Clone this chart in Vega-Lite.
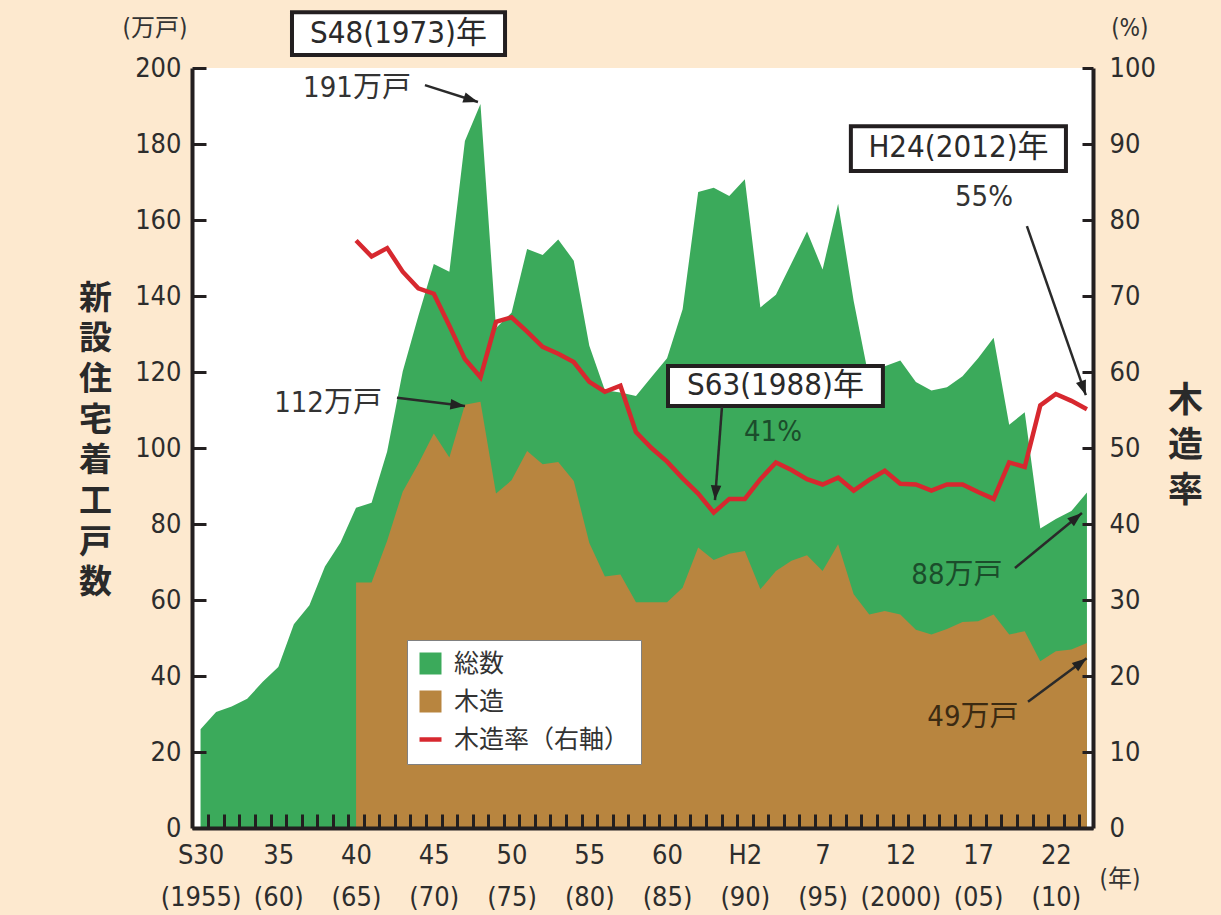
{
  "$schema": "https://vega.github.io/schema/vega-lite/v6.json",
  "width": 901,
  "height": 760,
  "autosize": {"type": "none"},
  "padding": {"left": 192, "top": 68, "right": 128, "bottom": 87},
  "background": "#FDE9CF",
  "config": {
    "view": {"fill": "white", "stroke": null},
    "font": "DejaVu Sans Condensed, Noto Sans CJK JP, sans-serif",
    "axis": {
      "grid": false,
      "zindex": 1,
      "domainColor": "#231F20",
      "domainWidth": 4,
      "tickColor": "#231F20",
      "tickWidth": 3,
      "labelColor": "#2d2d2d",
      "labelFont": "DejaVu Sans Condensed, Noto Sans CJK JP, sans-serif",
      "labelFontSize": 27
    }
  },
  "datasets": {
    "series": [
      {"year": 1955, "total": 26.0, "wood": null, "ratio": null},
      {"year": 1956, "total": 30.5, "wood": null, "ratio": null},
      {"year": 1957, "total": 32.0, "wood": null, "ratio": null},
      {"year": 1958, "total": 34.0, "wood": null, "ratio": null},
      {"year": 1959, "total": 38.5, "wood": null, "ratio": null},
      {"year": 1960, "total": 42.4, "wood": null, "ratio": null},
      {"year": 1961, "total": 53.6, "wood": null, "ratio": null},
      {"year": 1962, "total": 58.6, "wood": null, "ratio": null},
      {"year": 1963, "total": 68.8, "wood": null, "ratio": null},
      {"year": 1964, "total": 75.1, "wood": null, "ratio": null},
      {"year": 1965, "total": 84.3, "wood": 64.6, "ratio": 77.3},
      {"year": 1966, "total": 85.6, "wood": 64.6, "ratio": 75.2},
      {"year": 1967, "total": 99.1, "wood": 75.6, "ratio": 76.3},
      {"year": 1968, "total": 120.1, "wood": 88.5, "ratio": 73.2},
      {"year": 1969, "total": 134.7, "wood": 95.8, "ratio": 71.0},
      {"year": 1970, "total": 148.4, "wood": 103.8, "ratio": 70.3},
      {"year": 1971, "total": 146.4, "wood": 97.5, "ratio": 66.1},
      {"year": 1972, "total": 180.8, "wood": 111.4, "ratio": 61.7},
      {"year": 1973, "total": 190.5, "wood": 112.2, "ratio": 59.3},
      {"year": 1974, "total": 131.6, "wood": 88.0, "ratio": 66.6},
      {"year": 1975, "total": 135.6, "wood": 91.5, "ratio": 67.2},
      {"year": 1976, "total": 152.4, "wood": 99.2, "ratio": 65.3},
      {"year": 1977, "total": 150.8, "wood": 95.7, "ratio": 63.3},
      {"year": 1978, "total": 154.9, "wood": 96.3, "ratio": 62.4},
      {"year": 1979, "total": 149.3, "wood": 91.3, "ratio": 61.3},
      {"year": 1980, "total": 126.9, "wood": 75.0, "ratio": 58.7},
      {"year": 1981, "total": 115.2, "wood": 66.2, "ratio": 57.4},
      {"year": 1982, "total": 114.6, "wood": 66.7, "ratio": 58.2},
      {"year": 1983, "total": 113.7, "wood": 59.4, "ratio": 52.1},
      {"year": 1984, "total": 118.7, "wood": 59.4, "ratio": 50.0},
      {"year": 1985, "total": 123.6, "wood": 59.4, "ratio": 48.2},
      {"year": 1986, "total": 136.5, "wood": 63.2, "ratio": 46.0},
      {"year": 1987, "total": 167.4, "wood": 73.8, "ratio": 44.0},
      {"year": 1988, "total": 168.5, "wood": 70.5, "ratio": 41.5},
      {"year": 1989, "total": 166.3, "wood": 72.2, "ratio": 43.3},
      {"year": 1990, "total": 170.7, "wood": 72.9, "ratio": 43.3},
      {"year": 1991, "total": 137.0, "wood": 62.8, "ratio": 45.9},
      {"year": 1992, "total": 140.3, "wood": 67.6, "ratio": 48.1},
      {"year": 1993, "total": 148.6, "wood": 70.3, "ratio": 47.1},
      {"year": 1994, "total": 157.0, "wood": 71.8, "ratio": 45.9},
      {"year": 1995, "total": 147.0, "wood": 67.6, "ratio": 45.2},
      {"year": 1996, "total": 164.3, "wood": 74.7, "ratio": 46.1},
      {"year": 1997, "total": 138.7, "wood": 61.5, "ratio": 44.4},
      {"year": 1998, "total": 118.0, "wood": 56.2, "ratio": 45.8},
      {"year": 1999, "total": 121.5, "wood": 57.1, "ratio": 47.0},
      {"year": 2000, "total": 123.0, "wood": 56.2, "ratio": 45.3},
      {"year": 2001, "total": 117.4, "wood": 52.2, "ratio": 45.2},
      {"year": 2002, "total": 115.1, "wood": 50.9, "ratio": 44.4},
      {"year": 2003, "total": 116.0, "wood": 52.4, "ratio": 45.2},
      {"year": 2004, "total": 118.9, "wood": 54.2, "ratio": 45.2},
      {"year": 2005, "total": 123.6, "wood": 54.4, "ratio": 44.2},
      {"year": 2006, "total": 129.0, "wood": 56.2, "ratio": 43.3},
      {"year": 2007, "total": 106.1, "wood": 50.9, "ratio": 48.1},
      {"year": 2008, "total": 109.4, "wood": 51.8, "ratio": 47.5},
      {"year": 2009, "total": 78.8, "wood": 43.9, "ratio": 55.6},
      {"year": 2010, "total": 81.3, "wood": 46.5, "ratio": 57.1},
      {"year": 2011, "total": 83.4, "wood": 47.0, "ratio": 56.2},
      {"year": 2012, "total": 88.3, "wood": 48.7, "ratio": 55.1}
    ],
    "notes": [
      {"label": "(万戸)", "x": 1952.07, "y": 210.3, "group": "small"},
      {"label": "(%)", "x": 2014.76, "y": 210.3, "group": "small"},
      {"label": "(年)", "x": 2014.12, "y": -13.7, "group": "small"},
      {"label": "191万戸", "x": 1965.06, "y": 194.7, "group": "dark"},
      {"label": "112万戸", "x": 1963.2, "y": 111.8, "group": "dark"},
      {"label": "55%", "x": 2005.38, "y": 166.05, "group": "dark"},
      {"label": "41%", "x": 1991.81, "y": 104.2, "group": "green"},
      {"label": "88万戸", "x": 2003.64, "y": 66.6, "group": "green"},
      {"label": "49万戸", "x": 2004.67, "y": 29.2, "group": "brown"},
      {"label": "S48(1973)年", "x": 1967.73, "y": 209.0, "group": "box"},
      {"label": "S63(1988)年", "x": 1991.97, "y": 116.3, "group": "box"},
      {"label": "H24(2012)年", "x": 2003.74, "y": 178.9, "group": "box"}
    ],
    "boxes": [
      {"x": 1960.88, "x2": 1974.58, "y": 214.7, "y2": 203.4},
      {"x": 1985.06, "x2": 1998.88, "y": 121.6, "y2": 111.05},
      {"x": 1996.82, "x2": 2010.65, "y": 184.7, "y2": 172.9}
    ],
    "arrows": [
      {"id": "a191", "x": 1969.43, "y": 195.5, "x2": 1972.84, "y2": 191.05},
      {"id": "a112", "x": 1967.63, "y": 113.2, "x2": 1972.01, "y2": 111.05},
      {"id": "a41", "x": 1988.53, "y": 110.8, "x2": 1988.08, "y2": 86.3},
      {"id": "a55", "x": 2008.14, "y": 158.4, "x2": 2011.93, "y2": 113.9},
      {"id": "a88", "x": 2007.37, "y": 68.4, "x2": 2011.68, "y2": 82.9},
      {"id": "a49", "x": 2008.21, "y": 33.2, "x2": 2011.98, "y2": 44.7}
    ]
  },
  "layer": [
    {
      "data": {"name": "series"},
      "mark": {"type": "area", "opacity": 1, "interpolate": "linear"},
      "encoding": {
        "x": {
          "field": "year", "type": "quantitative",
          "scale": {"domain": [1954.45, 2012.39], "nice": false, "zero": false},
          "axis": {
            "title": null,
            "zindex": 2,
            "ticks": true,
            "values": [1955,1956,1957,1958,1959,1960,1961,1962,1963,1964,1965,1966,1967,1968,1969,1970,1971,1972,1973,1974,1975,1976,1977,1978,1979,1980,1981,1982,1983,1984,1985,1986,1987,1988,1989,1990,1991,1992,1993,1994,1995,1996,1997,1998,1999,2000,2001,2002,2003,2004,2005,2006,2007,2008,2009,2010,2011],
            "tickSize": -14,
            "tickOffset": 7.78,
            "labelOffset": -7.78,
            "labelPadding": 28,
            "labelFlush": false,
            "labelOverlap": false,
            "labelBound": false,
            "labelLineHeight": 42,
            "labelExpr": "datum.value == 1955 ? ['S30','(1955)'] : datum.value == 1960 ? ['35','(60)'] : datum.value == 1965 ? ['40','(65)'] : datum.value == 1970 ? ['45','(70)'] : datum.value == 1975 ? ['50','(75)'] : datum.value == 1980 ? ['55','(80)'] : datum.value == 1985 ? ['60','(85)'] : datum.value == 1990 ? ['H2','(90)'] : datum.value == 1995 ? ['7','(95)'] : datum.value == 2000 ? ['12','(2000)'] : datum.value == 2005 ? ['17','(05)'] : datum.value == 2010 ? ['22','(10)'] : ''"
          }
        },
        "y": {
          "field": "total", "type": "quantitative", "stack": null,
          "scale": {"domain": [0, 200], "nice": false},
          "axis": {
            "orient": "left",
            "zindex": 2,
            "values": [0,20,40,60,80,100,120,140,160,180,200],
            "tickSize": -14,
            "labelPadding": 25,
            "title": ["新","設","住","宅","着","工","戸","数"],
            "titleAngle": 0,
            "titleX": -97,
            "titleY": 230,
            "titleAlign": "center",
            "titleBaseline": "middle",
            "titleFont": "Noto Sans CJK JP",
            "titleFontSize": 33,
            "titleFontWeight": "bold",
            "titleLineHeight": 40.7,
            "titleColor": "#2a2a2a"
          }
        },
        "color": {
          "datum": "総数", "type": "nominal",
          "scale": {"domain": ["総数", "木造", "木造率（右軸）"], "range": ["#3BAA5B", "#B8853F", "#D7282F"]},
          "legend": {
            "orient": "none",
            "legendX": 215,
            "legendY": 572,
            "title": null,
            "fillColor": "white",
            "strokeColor": "#808080",
            "padding": 11,
            "labelFont": "Noto Sans CJK JP",
            "labelFontSize": 25,
            "labelColor": "#333333",
            "labelLimit": 0,
            "labelOffset": 11,
            "rowPadding": 12,
            "symbolSize": 484,
            "symbolType": {"expr": "datum.value === '木造率（右軸）' ? 'stroke' : 'square'"},
            "symbolStrokeColor": {"expr": "datum.value === '木造率（右軸）' ? '#D7282F' : 'transparent'"},
            "symbolStrokeWidth": {"expr": "datum.value === '木造率（右軸）' ? 4.5 : 0"}
          }
        }
      }
    },
    {
      "data": {"name": "series"},
      "transform": [{"filter": "isValid(datum.wood)"}],
      "mark": {"type": "area", "opacity": 1, "interpolate": "linear"},
      "encoding": {
        "x": {"field": "year", "type": "quantitative", "scale": {"domain": [1954.45, 2012.39], "nice": false, "zero": false}, "axis": null},
        "y": {"field": "wood", "type": "quantitative", "stack": null, "scale": {"domain": [0, 200], "nice": false}, "axis": null},
        "color": {"datum": "木造", "type": "nominal"}
      }
    },
    {
      "data": {"name": "series"},
      "transform": [{"filter": "isValid(datum.ratio)"}],
      "mark": {"type": "line", "strokeWidth": 4.5, "interpolate": "linear"},
      "encoding": {
        "x": {"field": "year", "type": "quantitative", "scale": {"domain": [1954.45, 2012.39], "nice": false, "zero": false}, "axis": null},
        "y": {
          "field": "ratio", "type": "quantitative",
          "scale": {"domain": [0, 100], "nice": false},
          "axis": {
            "orient": "right",
            "zindex": 2,
            "values": [0,10,20,30,40,50,60,70,80,90,100],
            "tickSize": -11,
            "labelPadding": 27,
            "title": ["木","造","率"],
            "titleAngle": 0,
            "titleX": 92,
            "titleY": 332,
            "titleAlign": "center",
            "titleBaseline": "middle",
            "titleFont": "Noto Sans CJK JP",
            "titleFontSize": 35,
            "titleFontWeight": "bold",
            "titleLineHeight": 45,
            "titleColor": "#2a2a2a"
          }
        },
        "color": {"datum": "木造率（右軸）", "type": "nominal"}
      }
    },
    {
      "data": {"name": "boxes"},
      "mark": {"type": "rect", "fill": "white", "stroke": "#231F20", "strokeWidth": 4},
      "encoding": {
        "x": {"field": "x", "type": "quantitative", "scale": {"domain": [1954.45, 2012.39], "nice": false, "zero": false}, "axis": null},
        "x2": {"field": "x2"},
        "y": {"field": "y", "type": "quantitative", "scale": {"domain": [0, 200], "nice": false}, "axis": null},
        "y2": {"field": "y2"}
      }
    },
    {
      "data": {"name": "arrows"},
      "mark": {"type": "rule", "stroke": "#2a2a2a", "strokeWidth": 2.5},
      "encoding": {
        "x": {"field": "x", "type": "quantitative", "scale": {"domain": [1954.45, 2012.39], "nice": false, "zero": false}, "axis": null},
        "x2": {"field": "x2"},
        "y": {"field": "y", "type": "quantitative", "scale": {"domain": [0, 200], "nice": false}, "axis": null},
        "y2": {"field": "y2"}
      }
    },
    {
      "data": {"name": "arrows"},
      "transform": [{"filter": "datum.id === 'a191'"}],
      "mark": {"type": "point", "shape": "M0,0L-0.75,2.1L0.75,2.1Z", "filled": true, "color": "#222222", "opacity": 1, "size": 196, "angle": 107.8},
      "encoding": {"x": {"field": "x2", "type": "quantitative", "scale": {"domain": [1954.45, 2012.39], "nice": false, "zero": false}, "axis": null}, "y": {"field": "y2", "type": "quantitative", "scale": {"domain": [0, 200], "nice": false}, "axis": null}}
    },
    {
      "data": {"name": "arrows"},
      "transform": [{"filter": "datum.id === 'a112'"}],
      "mark": {"type": "point", "shape": "M0,0L-0.75,2.1L0.75,2.1Z", "filled": true, "color": "#222222", "opacity": 1, "size": 196, "angle": 97},
      "encoding": {"x": {"field": "x2", "type": "quantitative", "scale": {"domain": [1954.45, 2012.39], "nice": false, "zero": false}, "axis": null}, "y": {"field": "y2", "type": "quantitative", "scale": {"domain": [0, 200], "nice": false}, "axis": null}}
    },
    {
      "data": {"name": "arrows"},
      "transform": [{"filter": "datum.id === 'a41'"}],
      "mark": {"type": "point", "shape": "M0,0L-0.75,2.1L0.75,2.1Z", "filled": true, "color": "#222222", "opacity": 1, "size": 196, "angle": 184.3},
      "encoding": {"x": {"field": "x2", "type": "quantitative", "scale": {"domain": [1954.45, 2012.39], "nice": false, "zero": false}, "axis": null}, "y": {"field": "y2", "type": "quantitative", "scale": {"domain": [0, 200], "nice": false}, "axis": null}}
    },
    {
      "data": {"name": "arrows"},
      "transform": [{"filter": "datum.id === 'a55'"}],
      "mark": {"type": "point", "shape": "M0,0L-0.75,2.1L0.75,2.1Z", "filled": true, "color": "#222222", "opacity": 1, "size": 196, "angle": 160.6},
      "encoding": {"x": {"field": "x2", "type": "quantitative", "scale": {"domain": [1954.45, 2012.39], "nice": false, "zero": false}, "axis": null}, "y": {"field": "y2", "type": "quantitative", "scale": {"domain": [0, 200], "nice": false}, "axis": null}}
    },
    {
      "data": {"name": "arrows"},
      "transform": [{"filter": "datum.id === 'a88'"}],
      "mark": {"type": "point", "shape": "M0,0L-0.75,2.1L0.75,2.1Z", "filled": true, "color": "#222222", "opacity": 1, "size": 196, "angle": 50.6},
      "encoding": {"x": {"field": "x2", "type": "quantitative", "scale": {"domain": [1954.45, 2012.39], "nice": false, "zero": false}, "axis": null}, "y": {"field": "y2", "type": "quantitative", "scale": {"domain": [0, 200], "nice": false}, "axis": null}}
    },
    {
      "data": {"name": "arrows"},
      "transform": [{"filter": "datum.id === 'a49'"}],
      "mark": {"type": "point", "shape": "M0,0L-0.75,2.1L0.75,2.1Z", "filled": true, "color": "#222222", "opacity": 1, "size": 196, "angle": 52.3},
      "encoding": {"x": {"field": "x2", "type": "quantitative", "scale": {"domain": [1954.45, 2012.39], "nice": false, "zero": false}, "axis": null}, "y": {"field": "y2", "type": "quantitative", "scale": {"domain": [0, 200], "nice": false}, "axis": null}}
    },
    {
      "data": {"name": "notes"},
      "transform": [{"filter": "datum.group === 'small'"}],
      "mark": {"type": "text", "fontSize": 24, "color": "#333333", "align": "center", "baseline": "middle"},
      "encoding": {"x": {"field": "x", "type": "quantitative", "scale": {"domain": [1954.45, 2012.39], "nice": false, "zero": false}, "axis": null}, "y": {"field": "y", "type": "quantitative", "scale": {"domain": [0, 200], "nice": false}, "axis": null}, "text": {"field": "label"}}
    },
    {
      "data": {"name": "notes"},
      "transform": [{"filter": "datum.group === 'dark'"}],
      "mark": {"type": "text", "fontSize": 29, "color": "#333333", "align": "center", "baseline": "middle"},
      "encoding": {"x": {"field": "x", "type": "quantitative", "scale": {"domain": [1954.45, 2012.39], "nice": false, "zero": false}, "axis": null}, "y": {"field": "y", "type": "quantitative", "scale": {"domain": [0, 200], "nice": false}, "axis": null}, "text": {"field": "label"}}
    },
    {
      "data": {"name": "notes"},
      "transform": [{"filter": "datum.group === 'green'"}],
      "mark": {"type": "text", "fontSize": 29, "color": "#1B4D2B", "align": "center", "baseline": "middle"},
      "encoding": {"x": {"field": "x", "type": "quantitative", "scale": {"domain": [1954.45, 2012.39], "nice": false, "zero": false}, "axis": null}, "y": {"field": "y", "type": "quantitative", "scale": {"domain": [0, 200], "nice": false}, "axis": null}, "text": {"field": "label"}}
    },
    {
      "data": {"name": "notes"},
      "transform": [{"filter": "datum.group === 'brown'"}],
      "mark": {"type": "text", "fontSize": 29, "color": "#3B2A12", "align": "center", "baseline": "middle"},
      "encoding": {"x": {"field": "x", "type": "quantitative", "scale": {"domain": [1954.45, 2012.39], "nice": false, "zero": false}, "axis": null}, "y": {"field": "y", "type": "quantitative", "scale": {"domain": [0, 200], "nice": false}, "axis": null}, "text": {"field": "label"}}
    },
    {
      "data": {"name": "notes"},
      "transform": [{"filter": "datum.group === 'box'"}],
      "mark": {"type": "text", "fontSize": 31, "color": "#2a2a2a", "align": "center", "baseline": "middle"},
      "encoding": {"x": {"field": "x", "type": "quantitative", "scale": {"domain": [1954.45, 2012.39], "nice": false, "zero": false}, "axis": null}, "y": {"field": "y", "type": "quantitative", "scale": {"domain": [0, 200], "nice": false}, "axis": null}, "text": {"field": "label"}}
    }
  ],
  "resolve": {"scale": {"y": "independent"}, "axis": {"x": "independent", "y": "independent"}}
}
